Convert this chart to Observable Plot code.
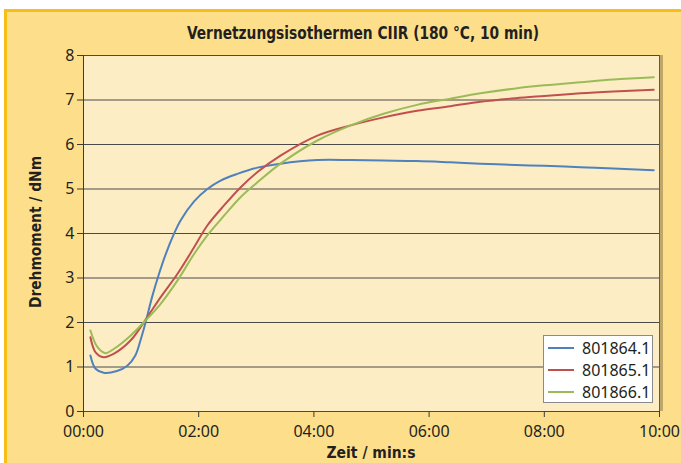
<!DOCTYPE html>
<html><head><meta charset="utf-8">
<script src="https://cdn.jsdelivr.net/npm/d3@7"></script>
<script src="https://cdn.jsdelivr.net/npm/@observablehq/plot@0.6"></script>
<style>
html,body{margin:0;padding:0;background:#fff;}
#wrap{position:relative;width:681px;height:463px;overflow:hidden;}
#bg{position:absolute;left:4px;top:9px;right:0;bottom:0;background:#FDDF8B;border-left:3px solid #F8BE17;border-top:3px solid #F8BE17;}
#chart{position:absolute;left:0;top:0;}
.t{position:absolute;white-space:nowrap;color:#231f20;}
#title{left:363px;top:33px;transform:translate(-50%,-50%) scaleX(0.9);font:bold 17px "DejaVu Sans Condensed","Liberation Sans Narrow",sans-serif;font-stretch:condensed;}
#xlab{left:371px;top:452px;transform:translate(-50%,-50%) scaleX(0.97);font:bold 16px "DejaVu Sans Condensed","Liberation Sans Narrow",sans-serif;font-stretch:condensed;}
#ylab{left:35px;top:232px;transform:translate(-50%,-50%) rotate(-90deg) scaleX(0.96);font:bold 16px "DejaVu Sans Condensed","Liberation Sans Narrow",sans-serif;font-stretch:condensed;}
#legend{position:absolute;left:543px;top:335px;width:108px;height:66px;background:#fff;border:1px solid #8a8a8a;font:16px "Noto Sans",sans-serif;color:#231f20;}
.row{position:absolute;left:4px;height:22px;display:flex;align-items:center;}
.sw{width:26px;height:0;border-top:2px solid;margin-right:8px;}
</style></head>
<body>
<div id="wrap">
  <div id="bg"></div>
  <div id="chart"></div>
  <div class="t" id="title">Vernetzungsisothermen CIIR (180 °C, 10 min)</div>
  <div class="t" id="ylab">Drehmoment / dNm</div>
  <div class="t" id="xlab">Zeit / min:s</div>
  <div id="legend"></div>
</div>
<script>
// ---- data (time in minutes, torque in dNm) ----
const seriesNames = ["801864.1", "801865.1", "801866.1"];
const seriesColors = ["#4F81BD", "#C0504D", "#9BBB59"];

const t864 = [0.12,0.21,0.35,0.58,0.76,0.90,0.99,1.08,1.19,1.31,1.42,1.57,1.68,1.92,2.15,2.38,2.67,3.02,3.42,4.06,4.64,5.21,5.79,6.37,6.89,7.5,8.0,8.63,9.2,9.9];
const v864 = [1.26,0.96,0.87,0.91,1.03,1.26,1.60,2.01,2.57,3.09,3.51,3.99,4.28,4.72,5.00,5.19,5.34,5.48,5.57,5.65,5.65,5.64,5.63,5.60,5.57,5.54,5.52,5.49,5.46,5.42];

const t865 = [0.12,0.21,0.35,0.53,0.82,1.05,1.34,1.63,1.92,2.15,2.44,2.73,3.02,3.42,4.06,4.64,5.21,5.79,6.37,6.89,7.5,8.0,8.63,9.2,9.9];
const v865 = [1.67,1.33,1.22,1.30,1.60,2.01,2.57,3.09,3.69,4.18,4.63,5.04,5.38,5.75,6.20,6.43,6.61,6.76,6.86,6.96,7.04,7.09,7.15,7.19,7.23];

const t866 = [0.12,0.24,0.38,0.53,0.82,1.05,1.34,1.63,1.92,2.15,2.44,2.73,3.02,3.42,4.06,4.64,5.21,5.79,6.37,6.89,7.5,8.0,8.63,9.2,9.9];
const v866 = [1.82,1.45,1.31,1.41,1.71,2.01,2.42,2.94,3.54,3.96,4.40,4.82,5.15,5.57,6.09,6.43,6.69,6.89,7.03,7.15,7.26,7.33,7.40,7.46,7.51];

const xTicks = [0, 2, 4, 6, 8, 10];
const yTicks = [0, 1, 2, 3, 4, 5, 6, 7, 8];

const times = [t864, t865, t866];
const values = [v864, v865, v866];
const data = [];
seriesNames.forEach((name, i) => times[i].forEach((t, j) => data.push({series: name, t, v: values[i][j]})));

const fmt = m => String(Math.floor(m)).padStart(2, "0") + ":" + String(Math.round((m % 1) * 60)).padStart(2, "0");

const chart = Plot.plot({
  width: 681, height: 463,
  marginLeft: 83, marginRight: 22, marginTop: 55, marginBottom: 52,
  style: {background: "transparent", fontFamily: "'Noto Sans', sans-serif", fontSize: "16px", color: "#231f20", overflow: "visible"},
  x: {domain: [0, 10]},
  y: {domain: [0, 8]},
  color: {domain: seriesNames, range: seriesColors},
  marks: [
    Plot.frame({fill: "#FDEDC4", stroke: null}),
    Plot.gridY(yTicks, {stroke: "#4a4a4a", strokeOpacity: 1, strokeWidth: 1}),
    Plot.ruleX([10], {stroke: "#bfa76a", strokeWidth: 3, dx: 2}),
    Plot.ruleX([10], {stroke: "#5a5a5a", strokeWidth: 1}),
    Plot.ruleX([0], {stroke: "#3a3a3a", strokeWidth: 1}),
    Plot.axisY(yTicks, {tickSize: 6, tickPadding: 3, label: null, stroke: "#3a3a3a"}),
    Plot.axisX(xTicks, {tickSize: 6, tickPadding: 8, label: null, tickFormat: fmt, stroke: "#3a3a3a"}),
    Plot.line(data, {x: "t", y: "v", z: "series", stroke: "series", strokeWidth: 2, curve: "catmull-rom"})
  ]
});
document.getElementById("chart").appendChild(chart);

const legend = document.getElementById("legend");
seriesNames.forEach((name, i) => {
  const row = document.createElement("div");
  row.className = "row";
  row.style.top = (1 + i * 22) + "px";
  const sw = document.createElement("div");
  sw.className = "sw";
  sw.style.borderTopColor = seriesColors[i];
  const lab = document.createElement("span");
  lab.textContent = name;
  row.appendChild(sw); row.appendChild(lab);
  legend.appendChild(row);
});
</script>
</body></html>
